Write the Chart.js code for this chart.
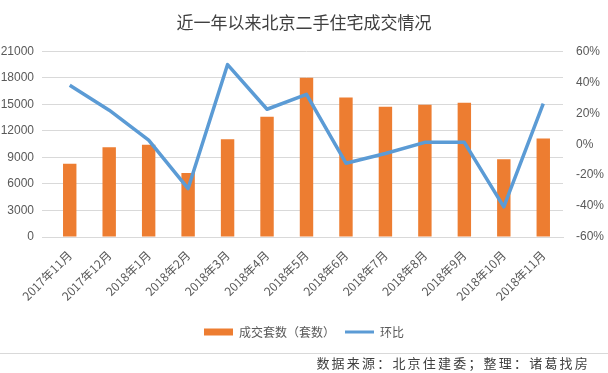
<!DOCTYPE html>
<html><head><meta charset="utf-8">
<script src="https://cdn.jsdelivr.net/npm/chart.js@4/dist/chart.umd.min.js"></script>
<style>html,body{margin:0;padding:0;background:#fff;}#wrap{width:608px;height:373px;position:relative;}</style>
</head><body><div id="wrap"><canvas id="c"></canvas></div>
<script>
const categories = ['2017年11月','2017年12月','2018年1月','2018年2月','2018年3月','2018年4月','2018年5月','2018年6月','2018年7月','2018年8月','2018年9月','2018年10月','2018年11月'];
const dealCounts = [8300, 10150, 10450, 7230, 11050, 13600, 18030, 15780, 14740, 14960, 15190, 8810, 11140];
const momChange = [38.1, 22, 2.7, -28.7, 51.5, 22.6, 32.2, -12.3, -6, 1.2, 1.2, -40.5, 26.2];
const titleText = '近一年以来北京二手住宅成交情况';
const sourceText = '数据来源：北京住建委；整理：诸葛找房';
const barLabel = '成交套数（套数）';
const lineLabel = '环比';

const CJK = '"Noto Sans CJK SC", "Noto Sans", sans-serif';
const footerPlugin = {
  id: 'footer',
  afterDraw(chart) {
    const ctx = chart.ctx;
    ctx.save();
    ctx.strokeStyle = '#d9d9d9';
    ctx.lineWidth = 1;
    ctx.beginPath(); ctx.moveTo(0, 353.5); ctx.lineTo(608, 353.5); ctx.stroke();
    ctx.fillStyle = '#404040';
    ctx.font = '13px ' + CJK;
    ctx.letterSpacing = '2.2px';
    ctx.textAlign = 'right';
    ctx.textBaseline = 'middle';
    ctx.fillText(sourceText, 590, 363);
    ctx.restore();
  }
};

new Chart(document.getElementById('c'), {
  data: {
    labels: categories,
    datasets: [
      { type: 'bar', label: barLabel, data: dealCounts, yAxisID: 'y', backgroundColor: '#ed7d31', borderWidth: 0,
        barPercentage: 0.34, categoryPercentage: 1, order: 1 },
      { type: 'line', label: lineLabel, data: momChange, yAxisID: 'y1', borderColor: '#5b9bd5', backgroundColor: '#5b9bd5',
        borderWidth: 3.5, pointRadius: 0, tension: 0, borderJoinStyle: 'round', order: 0 }
    ]
  },
  options: {
    responsive: true, maintainAspectRatio: false, animation: false,
    layout: { padding: { top: 0, left: 0, right: 0, bottom: 25 } },
    plugins: {
      title: { display: true, text: titleText, color: '#404040', font: { family: CJK, size: 17, weight: 'normal' },
        padding: { top: 12, bottom: 19 } },
      legend: { position: 'bottom',
        labels: { usePointStyle: true, pointStyleWidth: 29, boxWidth: 29, boxHeight: 7, padding: 10, color: '#595959',
          font: { family: CJK, size: 12 },
          sort: (a, b) => a.datasetIndex - b.datasetIndex,
          generateLabels(chart) {
            const items = Chart.defaults.plugins.legend.labels.generateLabels(chart);
            items.forEach(it => {
              if (it.datasetIndex === 0) { it.pointStyle = 'rect'; it.lineWidth = 0; it.fillStyle = '#ed7d31'; it.strokeStyle = '#ed7d31'; }
              else { it.pointStyle = 'line'; it.lineWidth = 3; it.strokeStyle = '#5b9bd5'; }
            });
            return items;
          } } },
      tooltip: { enabled: false }
    },
    scales: {
      x: { grid: { display: false }, border: { color: '#d9d9d9' },
        ticks: { color: '#595959', font: { family: CJK, size: 12 }, minRotation: 45, maxRotation: 45, autoSkip: false },
        afterFit: s => { s.height = 79; } },
      y: { position: 'left', min: 0, max: 21000, border: { display: false },
        grid: { color: '#d9d9d9' },
        ticks: { stepSize: 3000, color: '#595959', font: { family: '"Liberation Sans", sans-serif', size: 12 }, padding: 8,
          callback: v => String(v) },
        afterFit: s => { s.width = 50; } },
      y1: { position: 'right', min: -60, max: 60, border: { display: false },
        grid: { display: false },
        ticks: { stepSize: 20, color: '#595959', font: { family: '"Liberation Sans", sans-serif', size: 12 }, padding: 5,
          callback: v => v + '%' },
        afterFit: s => { s.width = 45; } }
    }
  },
  plugins: [footerPlugin]
});
</script></body></html>
